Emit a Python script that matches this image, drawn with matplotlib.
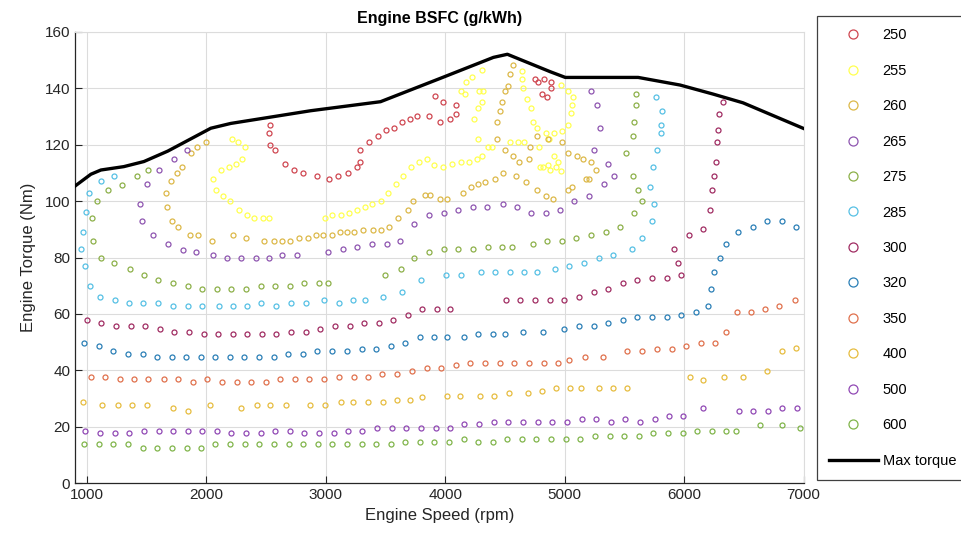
import matplotlib
matplotlib.use("Agg")
import matplotlib.pyplot as plt
from matplotlib.lines import Line2D

plt.rcParams['font.family'] = ['Liberation Sans', 'DejaVu Sans']

# ---------------- data ----------------
max_rpm = [900, 1033, 1117, 1309, 1477, 1677, 2037, 2204, 2873, 3458, 3960, 4403, 4520, 4880, 5005, 5615, 5966, 6242, 6493, 6995]
max_tq = [105.3, 109.5, 111, 112.2, 114, 117.7, 125.8, 127.5, 132, 135.2, 143.5, 150.9, 152, 145.8, 143.8, 143.8, 141.1, 137.9, 134.8, 125.8]

rpm_250 = [2533, 2522, 2536, 2574, 2661, 2733, 2806, 2923, 3023, 3104, 3188, 3263, 3285, 3283, 3360, 3439, 3506,
           3569, 3634, 3706, 3767, 3862, 3957, 4041, 4088, 4091, 3979, 3915,
           4752, 4773, 4824, 4885, 4885, 4810, 4852]
tq_250 = [126.9, 124, 119.9, 118, 113, 111, 110, 109, 107.9, 109, 110, 112, 114, 118, 120.9, 123.1, 125,
          126, 128, 129.1, 130.1, 130.1, 128, 129.1, 131, 134, 135.1, 137.2,
          143.2, 142.1, 143.2, 142.1, 140, 138, 137]

rpm_255 = [2215, 2268, 2327, 2302, 2252, 2190, 2126, 2059, 2084, 2140, 2198, 2271, 2344, 2402, 2477, 2524,
           2990, 3051, 3124, 3193, 3257, 3324, 3385, 3458, 3519, 3589, 3645, 3709, 3778, 3849, 3904, 3981,
           4058, 4135, 4202, 4267, 4308, 4355, 4392,
           4244, 4275, 4308, 4280, 4317, 4169, 4135, 4177, 4225, 4308, 4275, 4545, 4606, 4662,
           4643, 4643, 4648, 4685, 4718, 4732, 4768, 4844, 4913, 4974, 5024, 5053, 5058, 5066, 5030, 4971,
           4782, 4865, 4815, 4863, 4907, 4930, 4969, 4941, 4874, 4796]
tq_255 = [122, 121, 119, 115, 113, 112, 110.9, 107.9, 103.9, 101.9, 99.9, 96.9, 94.9, 94, 94, 94,
          93.9, 94.9, 94.9, 95.9, 96.9, 97.9, 99, 99.9, 102.9, 105.9, 108.9, 112, 114, 114.9, 112.9, 112,
          113, 114, 114, 114.9, 116, 119, 119,
          129.1, 133.1, 135, 139.1, 139.1, 137.9, 139.1, 142.1, 144.1, 146.4, 122, 121, 121, 121,
          146.1, 143.1, 140, 136, 133.1, 128.1, 126, 124, 124.1, 124.9, 126.9, 131.1, 134, 137, 139.1, 141.1,
          119, 122, 112, 112.8, 116, 112, 110.6, 114, 111, 112.2]

rpm_260 = [1997, 1922, 1870, 1794, 1750, 1702, 1666, 1671, 1713, 1763, 1859, 1926, 2049, 2223, 2332, 2480,
           2566, 2636, 2703, 2775, 2848, 2917, 2979, 3051, 3115, 3176, 3235, 3308, 3391, 3458, 3528, 3606,
           3692, 3730, 3830, 3870, 3960, 4018, 4148, 4219, 4273, 4336, 4415, 4481,
           4564, 4545, 4523, 4501, 4478, 4456, 4436, 4431, 4497, 4564, 4620, 4698, 4710, 4765, 4857, 4974,
           5024, 5099, 5151, 5220, 5264, 5206, 5175, 5063, 5024, 4899, 4842, 4768, 4679, 4595]
tq_260 = [121, 119, 117, 112, 110, 107, 102.9, 97.9, 92.9, 90.9, 87.9, 87.9, 85.8, 87.9, 86.9, 85.8,
          85.8, 85.8, 85.8, 86.9, 86.9, 87.9, 87.9, 87.9, 88.9, 88.9, 88.9, 89.9, 89.9, 89.9, 90.9, 93.9,
          96.9, 99.9, 102, 102, 100.8, 100.8, 103, 104.9, 105.9, 106.9, 107.9, 110,
          148.2, 145, 140.9, 139, 135.2, 132, 128, 122, 118, 116.1, 114, 114.9, 119, 123.2, 122, 121,
          116.9, 116, 115, 114, 110.9, 107.9, 107.9, 104.9, 103.9, 100.8, 101.9, 103.9, 106.9, 109]

rpm_265 = [1836, 1725, 1604, 1504, 1443, 1462, 1549, 1675, 1803, 1911, 2053, 2173, 2293, 2413, 2528, 2630, 2762,
           3018, 3140, 3263, 3383, 3508, 3625, 3740, 3865, 3987, 4108, 4230, 4353, 4481, 4604, 4718, 4840,
           4957, 5080, 5203, 5331, 5415, 5359, 5242, 5292, 5270, 5222]
tq_265 = [118, 115, 110.9, 105.9, 98.8, 92.9, 87.9, 84.8, 82.8, 81.8, 80.9, 79.8, 79.8, 79.8, 79.8, 80.9, 80.9,
          81.8, 82.9, 83.8, 84.9, 84.9, 85.8, 91.9, 94.9, 95.9, 96.9, 97.9, 97.9, 99, 97.9, 95.9, 95.9,
          96.9, 99.9, 101.9, 105.9, 109, 113, 118, 126, 134, 139.1]

rpm_275 = [1507, 1416, 1295, 1176, 1084, 1042, 1048, 1115, 1228, 1357, 1477, 1599, 1722, 1842, 1964, 2087,
           2210, 2332, 2455, 2578, 2700, 2820, 2942, 3018, 3497, 3628, 3742, 3865, 3987, 4110, 4233, 4355,
           4476, 4556, 4732, 4852, 4977, 5097, 5220, 5342, 5459, 5584, 5651, 5613, 5571, 5509, 5571, 5576,
           5599, 5593]
tq_275 = [110.9, 108.8, 105.8, 103.9, 99.9, 93.9, 85.8, 79.8, 77.9, 75.9, 73.8, 71.9, 70.9, 69.9, 68.8, 68.8,
          68.8, 68.8, 69.9, 69.9, 69.9, 70.9, 70.9, 70.9, 73.8, 75.8, 79.8, 81.8, 82.9, 82.9, 82.9, 83.8,
          83.8, 83.8, 84.9, 85.8, 85.8, 86.9, 87.9, 88.9, 90.9, 95.9, 99.9, 103.9, 109, 116.9, 122.9, 128.1,
          134, 138]

rpm_285 = [1226, 1115, 1019, 992, 969, 952, 983, 1028, 1111, 1232, 1354, 1466, 1591, 1722, 1842, 1967,
           2106, 2221, 2344, 2461, 2586, 2706, 2831, 2984, 3110, 3227, 3327, 3481, 3640, 3793, 4007, 4130,
           4297, 4420, 4539, 4662, 4771, 4919, 5036, 5164, 5283, 5404, 5563, 5651, 5727, 5747,
           5713, 5738, 5772, 5810, 5808, 5814, 5766]
tq_285 = [108.9, 107, 103, 96, 88.9, 82.9, 77, 69.8, 65.9, 64.9, 63.9, 63.9, 63.9, 62.8, 62.8, 62.8,
          62.8, 62.8, 62.8, 63.9, 62.8, 63.9, 63.9, 64.9, 63.9, 64.9, 64.9, 65.9, 67.9, 71.9, 73.8, 73.8,
          74.9, 74.9, 74.9, 74.9, 74.9, 75.9, 76.9, 77.9, 79.9, 80.9, 82.9, 86.9, 92.9, 99,
          105.1, 112.1, 118, 124, 126.9, 132, 137]

rpm_300 = [997, 1120, 1245, 1365, 1487, 1610, 1733, 1853, 1976, 2098, 2221, 2344, 2466, 2586, 2708, 2831,
           2954, 3073, 3199, 3319, 3441, 3564, 3686, 3809, 3929, 4038, 4509, 4629, 4751, 4874,
           4997, 5120, 5242, 5365, 5488, 5609, 5732, 5855, 5977, 5952, 5916, 6042, 6159, 6220,
           6237, 6248, 6265, 6273, 6287, 6295, 6328]
tq_300 = [57.9, 56.8, 55.7, 55.7, 55.7, 54.8, 53.7, 53.7, 52.8, 52.8, 52.8, 52.8, 52.8, 52.8, 53.7, 53.7,
          54.8, 55.7, 55.7, 56.8, 56.8, 57.9, 59.7, 61.9, 61.9, 61.9, 64.8, 64.8, 64.8, 64.8,
          64.8, 65.9, 67.9, 68.8, 70.9, 71.9, 72.8, 72.8, 73.9, 77.9, 82.9, 88, 90, 96.8,
          103.9, 109, 113.9, 120.9, 125, 131, 135.1]

rpm_320 = [975, 1098, 1220, 1343, 1466, 1588, 1708, 1830, 1953, 2076, 2198, 2319, 2441, 2564, 2686, 2808,
           2929, 3054, 3176, 3299, 3422, 3542, 3667, 3787, 3904, 4016, 4155, 4278, 4397, 4503, 4651, 4815,
           4997, 5119, 5242, 5364, 5487, 5609, 5732, 5855, 5977, 6098, 6203, 6226, 6251, 6301, 6354, 6454,
           6574, 6696, 6822, 6939]
tq_320 = [49.8, 48.8, 46.8, 45.8, 45.8, 44.9, 44.9, 44.9, 44.9, 44.9, 44.9, 44.9, 44.9, 44.9, 45.8, 45.8,
          46.8, 46.8, 46.8, 47.7, 47.7, 48.8, 49.7, 51.8, 51.8, 51.8, 51.8, 52.8, 52.8, 52.8, 53.7, 53.7,
          54.8, 55.7, 55.7, 56.8, 57.7, 58.8, 58.8, 58.8, 59.7, 60.8, 62.8, 68.7, 74.9, 79.9, 84.9, 88.9,
          90.9, 92.9, 92.9, 90.9]

rpm_350 = [1033, 1150, 1276, 1395, 1513, 1644, 1763, 1886, 2009, 2131, 2254, 2377, 2499, 2616, 2742, 2862,
           2982, 3110, 3232, 3355, 3472, 3598, 3720, 3843, 3966, 4088, 4211, 4333, 4456, 4576, 4701, 4824,
           4941, 5038, 5172, 5317, 5521, 5651, 5774, 5897, 6019, 6142, 6256, 6348, 6440, 6560, 6677, 6794,
           6928]
tq_350 = [37.8, 37.8, 36.8, 36.8, 36.8, 36.8, 36.8, 35.8, 36.8, 35.8, 35.8, 35.8, 35.8, 36.8, 36.8, 36.8,
          36.8, 37.8, 37.8, 37.8, 38.8, 38.8, 39.7, 40.7, 40.7, 41.8, 42.7, 42.7, 42.7, 42.7, 42.7, 42.7,
          42.7, 43.7, 44.7, 44.7, 46.8, 46.8, 47.7, 47.7, 48.8, 49.7, 49.7, 53.7, 60.8, 60.8, 61.9, 62.8,
          64.8]

rpm_400 = [969, 1123, 1262, 1374, 1499, 1722, 1847, 2031, 2288, 2421, 2533, 2667, 2867, 2990, 3124, 3230,
           3352, 3475, 3598, 3703, 3801, 4016, 4127, 4294, 4411, 4537, 4690, 4810, 4930, 5047, 5136, 5289,
           5401, 5521, 6050, 6156, 6337, 6491, 6691, 6822, 6936]
tq_400 = [28.7, 27.7, 27.7, 27.7, 27.7, 26.6, 25.7, 27.7, 26.6, 27.7, 27.7, 27.7, 27.7, 27.7, 28.7, 28.7,
          28.7, 28.7, 29.6, 29.6, 30.7, 31.0, 31.0, 31.0, 31.0, 31.9, 31.9, 32.8, 33.9, 33.9, 33.9, 33.9,
          33.9, 33.9, 37.8, 36.6, 37.8, 37.8, 39.7, 46.8, 47.8]

rpm_500 = [983, 1109, 1232, 1354, 1477, 1600, 1722, 1844, 1964, 2087, 2210, 2332, 2455, 2578, 2700, 2819,
           2942, 3065, 3188, 3307, 3430, 3553, 3675, 3798, 3920, 4038, 4160, 4283, 4405, 4528, 4651, 4773,
           4896, 5019, 5141, 5261, 5384, 5507, 5629, 5752, 5874, 5994, 6156, 6462, 6579, 6699, 6819, 6942]
tq_500 = [18.6, 17.7, 17.7, 17.7, 18.6, 18.6, 18.6, 18.6, 18.6, 18.6, 17.7, 17.7, 17.7, 18.6, 18.6, 17.7,
          17.7, 17.7, 18.6, 18.6, 19.7, 19.7, 19.7, 19.7, 19.7, 19.7, 21.0, 21.0, 21.8, 21.8, 21.8, 21.8,
          21.8, 21.8, 22.8, 22.8, 21.8, 22.8, 21.8, 22.8, 23.8, 23.8, 26.7, 25.7, 25.7, 25.7, 26.7, 26.7]

rpm_600 = [972, 1098, 1220, 1343, 1466, 1588, 1711, 1834, 1953, 2076, 2199, 2321, 2443, 2565, 2689, 2808,
           2931, 3054, 3176, 3299, 3418, 3544, 3667, 3787, 3904, 4029, 4155, 4275, 4397, 4518, 4640, 4763,
           4886, 5008, 5131, 5253, 5376, 5498, 5621, 5743, 5866, 5989, 6111, 6234, 6354, 6432, 6635, 6817,
           6970]
tq_600 = [13.8, 13.8, 13.8, 13.8, 12.6, 12.6, 12.6, 12.6, 12.6, 13.8, 13.8, 13.8, 13.8, 13.8, 13.8, 13.8,
          13.8, 13.8, 13.8, 13.8, 13.8, 13.8, 14.6, 14.6, 14.6, 14.6, 15.6, 14.6, 14.6, 15.6, 15.6, 15.6,
          15.6, 15.6, 15.6, 16.6, 16.6, 16.6, 16.6, 17.7, 17.7, 17.7, 18.6, 18.6, 18.6, 18.6, 20.5, 20.5,
          19.5]

levels = ['250', '255', '260', '265', '275', '285', '300', '320', '350', '400', '500', '600']
series_rpm = [rpm_250, rpm_255, rpm_260, rpm_265, rpm_275, rpm_285, rpm_300, rpm_320, rpm_350, rpm_400, rpm_500, rpm_600]
series_tq = [tq_250, tq_255, tq_260, tq_265, tq_275, tq_285, tq_300, tq_320, tq_350, tq_400, tq_500, tq_600]
colors = ['#cf4650', '#ffff50', '#dcb848', '#8e55b0', '#8cb048', '#56c0e4', '#a02c62', '#2a7fb6',
          '#e0704c', '#e6bc3e', '#9048b4', '#80b44a']

# ---------------- figure ----------------
fig = plt.figure(figsize=(9.62, 5.37), dpi=100)
ax = fig.add_axes([75 / 962, 1 - 483.3 / 537, (803.6 - 75) / 962, (483.3 - 31.7) / 537])

handles = []
for lab, xs, ys, c in zip(levels, series_rpm, series_tq, colors):
    ax.plot(xs, ys, ls='none', marker='o', ms=3.6, mfc='none', mec=c, mew=0.9)
    handles.append(Line2D([], [], ls='none', marker='o', ms=6.5, mfc='none', mec=c, mew=0.9, label=lab))

ax.plot(max_rpm, max_tq, color='black', lw=2.4, label='Max torque', zorder=5)
handles.append(Line2D([], [], color='black', lw=2.4, label='Max torque'))

ax.set_xlim(900, 7000)
ax.set_ylim(0, 160)
ax.set_xticks(range(1000, 7001, 1000))
ax.set_yticks(range(0, 161, 20))
ax.grid(True, color='#dcdcdc', lw=0.8)
ax.set_axisbelow(True)
ax.tick_params(direction='in', length=5, labelsize=11, colors='#262626', top=False, right=False)
for s in ['left', 'bottom']:
    ax.spines[s].set_color('#262626')
    ax.spines[s].set_linewidth(0.9)
for s in ['top', 'right']:
    ax.spines[s].set_color('#dcdcdc')
    ax.spines[s].set_linewidth(0.8)

ax.set_title('Engine BSFC (g/kWh)', fontsize=11.5, fontweight='bold', pad=6)
ax.set_xlabel('Engine Speed (rpm)', fontsize=12, color='#262626', labelpad=4)
ax.set_ylabel('Engine Torque (Nm)', fontsize=12, color='#262626', labelpad=6)

leg = fig.legend(handles=handles, loc='upper left',
                 bbox_to_anchor=(817 / 962, 1 - 16 / 537, 200 / 962, 0), mode='expand',
                 fontsize=10.5, labelspacing=1.47, handlelength=3.3, handletextpad=0.35,
                 borderpad=0.85, frameon=True, fancybox=False, framealpha=1, borderaxespad=0)
leg.get_frame().set_edgecolor('#404040')
leg.get_frame().set_linewidth(0.9)

fig.savefig('out.png', dpi=100)
